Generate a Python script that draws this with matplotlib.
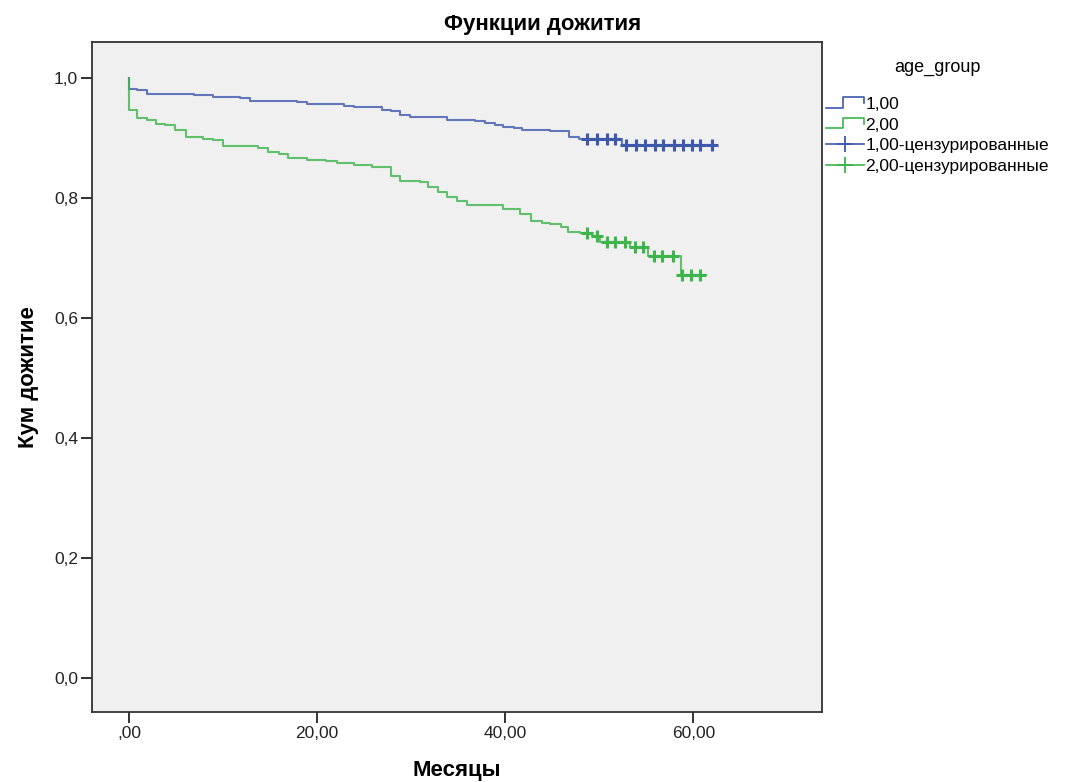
import numpy as np
import matplotlib
matplotlib.use("Agg")
import matplotlib.pyplot as plt
from matplotlib.legend_handler import HandlerBase
from matplotlib.lines import Line2D

plt.rcParams['font.family'] = ['Liberation Sans', 'DejaVu Sans']

# age_group 1,00 : step change points (months, survival)
t1 = [0, 0, 0.8, 1.9, 4.7, 6.9, 8.9, 11.8, 12.9, 17.9, 18.9, 22.8, 23.9, 26.9,
      27.8, 28.8, 29.9, 33.8, 36.8, 37.9, 38.9, 39.8, 40.9, 41.8, 44.8, 46.8,
      47.8, 52.4]
s1 = [1.0, 0.982, 0.980, 0.974, 0.973, 0.971, 0.969, 0.966, 0.962, 0.960, 0.957,
      0.954, 0.952, 0.947, 0.945, 0.938, 0.935, 0.930, 0.928, 0.925, 0.922,
      0.919, 0.916, 0.913, 0.911, 0.901, 0.898, 0.888]
end1 = 62.3
cens1 = [48.7, 49.8, 50.8, 51.7, 52.8, 53.9, 54.9, 55.9, 56.8, 57.9, 58.9,
         59.9, 60.7, 62.0]

# age_group 2,00
t2 = [0, 0, 0.8, 1.9, 2.9, 3.8, 4.9, 6.0, 7.9, 8.9, 10.0, 13.7, 14.8, 15.9,
      16.9, 18.9, 20.9, 22.1, 23.9, 25.8, 27.8, 28.8, 30.9, 31.8, 32.8, 33.8,
      34.9, 35.9, 39.8, 41.6, 42.7, 43.9, 44.8, 45.9, 46.7, 48.0, 49.2, 50.1,
      53.3, 55.2, 58.7]
s2 = [1.0, 0.946, 0.934, 0.930, 0.924, 0.922, 0.913, 0.902, 0.899, 0.897, 0.886,
      0.883, 0.877, 0.873, 0.866, 0.863, 0.861, 0.858, 0.855, 0.852, 0.836,
      0.829, 0.826, 0.818, 0.810, 0.801, 0.795, 0.788, 0.782, 0.774, 0.762,
      0.759, 0.756, 0.751, 0.744, 0.741, 0.737, 0.727, 0.719, 0.703, 0.671]
end2 = 61.4
cens2 = [48.7, 49.8, 50.8, 51.7, 52.7, 53.8, 54.7, 55.8, 56.7, 57.8, 58.8,
         59.8, 60.7]

blue = '#3E58AC'
green = '#3CB54A'


def surv_at(t, s, x):
    idx = np.searchsorted(t, x, side='right') - 1
    return np.array(s)[idx]


class StepHandler(HandlerBase):
    def create_artists(self, legend, orig_handle, xdescent, ydescent,
                       width, height, fontsize, trans):
        x0, y0 = -xdescent, -ydescent
        xs = [x0, x0 + 0.45 * width, x0 + 0.45 * width, x0 + width, x0 + width]
        ys = [y0 + 0.1 * height, y0 + 0.1 * height, y0 + 0.95 * height,
              y0 + 0.95 * height, y0 + 0.45 * height]
        ln = Line2D(xs, ys, color=orig_handle.get_color(), lw=1.2, transform=trans)
        return [ln]


fig = plt.figure(figsize=(10.75, 7.82), dpi=100)
ax = fig.add_axes([0.0856, 0.0895, 0.6791, 0.8568])
ax.set_facecolor('#F0F0F0')

x1 = list(t1) + [end1]
y1 = list(s1) + [s1[-1]]
x2 = list(t2) + [end2]
y2 = list(s2) + [s2[-1]]
l1, = ax.step(x1, y1, where='post', color=blue, lw=1.5, alpha=0.8)
l2, = ax.step(x2, y2, where='post', color=green, lw=1.5, alpha=0.8)
c1, = ax.plot(cens1, surv_at(t1, s1, cens1), '+', color=blue, ms=9, mew=2.2, ls='none')
c2, = ax.plot(cens2, surv_at(t2, s2, cens2), '+', color=green, ms=9, mew=2.2, ls='none')

ax.set_xlim(-3.95, 73.7)
ax.set_ylim(-0.057, 1.06)
ax.set_xticks([0, 20, 40, 60])
ax.set_xticklabels([',00', '20,00', '40,00', '60,00'], fontsize=12.5)
ax.set_yticks([0, 0.2, 0.4, 0.6, 0.8, 1.0])
ax.set_yticklabels(['0,0', '0,2', '0,4', '0,6', '0,8', '1,0'], fontsize=12.5)
ax.tick_params(direction='out', length=8, width=1.3, colors='#222222', pad=2)
for sp in ax.spines.values():
    sp.set_linewidth(1.3)
    sp.set_color('#333333')

ax.set_xlabel('Месяцы', fontsize=16, fontweight='bold')
ax.xaxis.set_label_coords(0.5, -0.072)
ax.set_ylabel('Кум дожитие', fontsize=16, fontweight='bold')
ax.yaxis.set_label_coords(-0.073, 0.5)
fig.text(0.505, 0.969, 'Функции дожития', ha='center', va='center',
         fontsize=16, fontweight='bold')

leg_c1 = Line2D([], [], color=blue, marker='+', ms=12, mew=1.3, lw=1.2)
leg_c2 = Line2D([], [], color=green, marker='+', ms=12, mew=1.3, lw=1.2)
leg = fig.legend([l1, l2, leg_c1, leg_c2],
                 ['1,00', '2,00', '1,00-цензурированные', '2,00-цензурированные'],
                 title='age_group', loc='upper left', bbox_to_anchor=(0.768, 0.925),
                 frameon=False, fontsize=12.5, title_fontsize=13,
                 handlelength=2.2, handletextpad=0.1, labelspacing=0.32,
                 borderpad=0, borderaxespad=0,
                 handler_map={l1: StepHandler(), l2: StepHandler()})
leg._legend_box.align = 'center'
leg._legend_box.sep = 15

fig.savefig('out.png', dpi=100, facecolor='white')
